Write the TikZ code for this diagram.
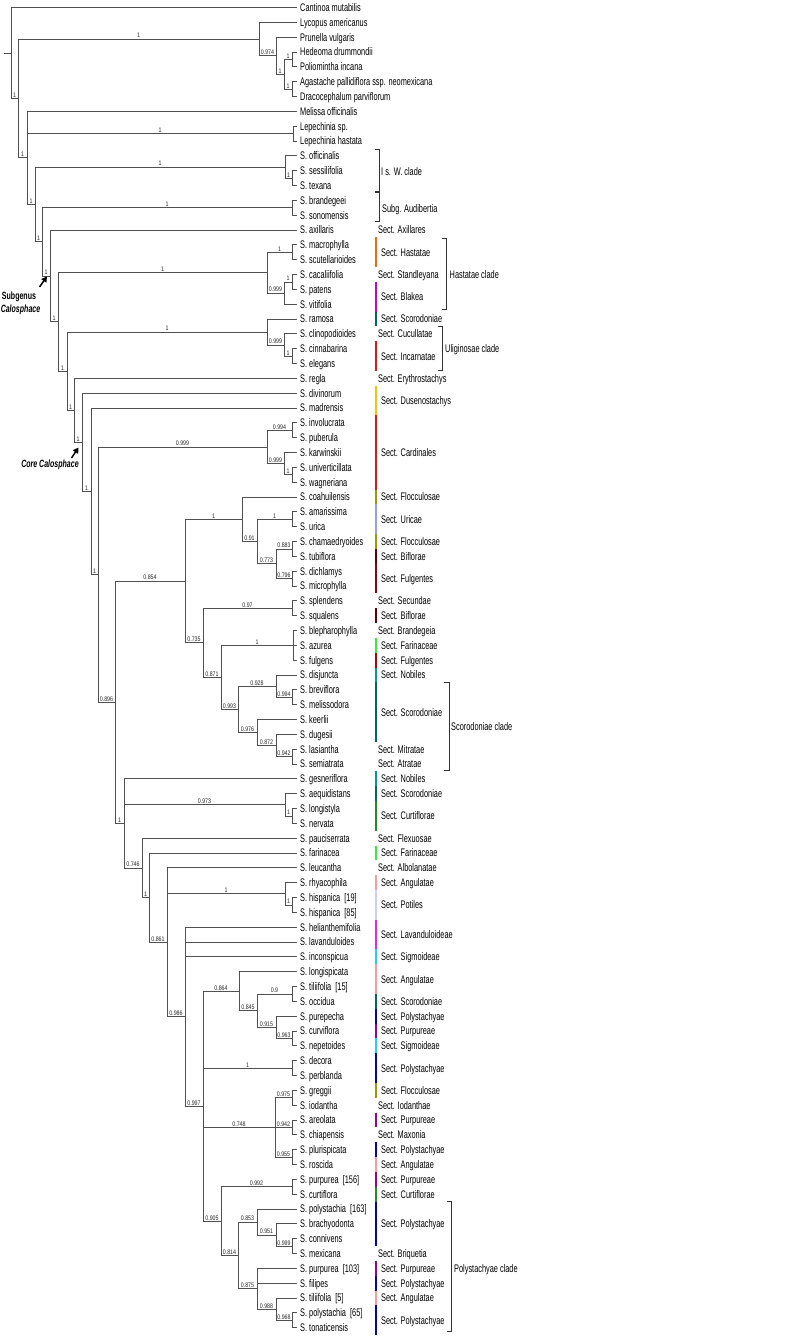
\documentclass[tikz,border=0pt]{standalone}
\usepackage{fontspec}
\setmainfont[FakeStretch=0.67]{Liberation Sans}
\newfontfamily\supfont[FakeStretch=0.8]{Liberation Sans}
\usetikzlibrary{arrows.meta}
\definecolor{treegray}{HTML}{505050}
\definecolor{orng}{HTML}{FF6600}
\definecolor{mgnt}{HTML}{CC00CC}
\definecolor{brmag}{HTML}{EE22EE}
\definecolor{dteal}{HTML}{006666}
\definecolor{teal}{HTML}{009999}
\definecolor{rred}{HTML}{EE1111}
\definecolor{yell}{HTML}{FFC000}
\definecolor{olv}{HTML}{999900}
\definecolor{lav}{HTML}{9999FF}
\definecolor{llav}{HTML}{CCCCFF}
\definecolor{mrn}{HTML}{660000}
\definecolor{dred}{HTML}{990000}
\definecolor{fred}{HTML}{BB0000}
\definecolor{lgrn}{HTML}{33EE33}
\definecolor{fgrn}{HTML}{228B22}
\definecolor{pnk}{HTML}{FF9999}
\definecolor{cyn}{HTML}{22CCFF}
\definecolor{blu}{HTML}{0000CC}
\definecolor{prp}{HTML}{990099}
\begin{document}
\begin{tikzpicture}[x=1pt,y=-14.834pt,
 br/.style={draw=treegray,line width=0.85pt},
 lbl/.style={font=\supfont\fontsize{6.6}{7}\selectfont,text=black!85,above,inner sep=0.6pt},
 leaf/.style={anchor=base west,inner sep=0pt,yshift=-3.9pt,font=\fontsize{11}{13}\selectfont},
 bar/.style={line width=2.2pt},
 brk/.style={draw=black!80,line width=0.9pt},
 arr/.style={-{Triangle[length=5.5pt,width=6pt]},line width=1.5pt},
 annot/.style={inner sep=0pt,font=\bfseries\itshape\fontsize{10.5}{12}\selectfont}]
\useasboundingbox[fill=white] (0,0.49441) rectangle (788,90.7600);
% internal nodes
\coordinate (R0) at (4,4.066);
\coordinate (R) at (11,4.066);
\coordinate (A) at (18,7.131);
\coordinate (L) at (259,3.125);
\coordinate (C) at (276,4.25);
\coordinate (D) at (284,5.5);
\coordinate (E) at (292,4.5);
\coordinate (F) at (292,6.5);
\coordinate (B) at (27,11.137);
\coordinate (Lp) at (293,9.5);
\coordinate (G) at (35,14.274);
\coordinate (H) at (285,11.75);
\coordinate (H2) at (292,12.5);
\coordinate (I) at (42,16.799);
\coordinate (Br) at (292,14.5);
\coordinate (J) at (50,19.097);
\coordinate (K) at (58,22.195);
\coordinate (Ha) at (267,18.875);
\coordinate (HaA) at (292,17.5);
\coordinate (HaB) at (284,20.25);
\coordinate (HaC) at (292,19.5);
\coordinate (M) at (67,25.514);
\coordinate (N) at (267,22.875);
\coordinate (Ul) at (284,23.75);
\coordinate (UlA) at (292,24.5);
\coordinate (O) at (74,28.154);
\coordinate (P) at (82,30.307);
\coordinate (Q) at (91,33.614);
\coordinate (S) at (98,39.229);
\coordinate (Ca) at (267,30.625);
\coordinate (CaA) at (292,29.5);
\coordinate (CaB) at (284,31.75);
\coordinate (CaC) at (292,32.5);
\coordinate (T) at (115,47.833);
\coordinate (U) at (185,39.664);
\coordinate (W) at (242,35.5);
\coordinate (WA) at (292,35.5);
\coordinate (WB) at (257,37);
\coordinate (WC) at (276,38.5);
\coordinate (WD) at (292,37.5);
\coordinate (WE) at (292,39.5);
\coordinate (X) at (203,43.828);
\coordinate (Y) at (292,41.5);
\coordinate (Z) at (221,46.156);
\coordinate (ZA) at (293,44);
\coordinate (ZB) at (238,48.3125);
\coordinate (ZC) at (276,46.75);
\coordinate (ZD) at (292,47.5);
\coordinate (ZE) at (257,49.875);
\coordinate (ZF) at (276,50.75);
\coordinate (ZG) at (292,51.5);
\coordinate (V) at (124,56.002);
\coordinate (VA) at (285,54.75);
\coordinate (VB) at (292,55.5);
\coordinate (AA) at (142,59.004);
\coordinate (AB) at (149,61.008);
\coordinate (AC) at (167,64.015);
\coordinate (AD) at (285,60.75);
\coordinate (ADb) at (292,61.5);
\coordinate (AE) at (185,69.03);
\coordinate (AF) at (203,75.0625);
\coordinate (AG) at (239,67.3125);
\coordinate (AGb) at (257,68.625);
\coordinate (AGc) at (292,67.5);
\coordinate (AGd) at (276,69.75);
\coordinate (AGe) at (292,70.5);
\coordinate (AH) at (292,72.5);
\coordinate (AI) at (275,76.5);
\coordinate (AIa) at (292,74.5);
\coordinate (AIb) at (292,76.5);
\coordinate (AIc) at (292,78.5);
\coordinate (AJ) at (221,82.8125);
\coordinate (AK) at (292,80.5);
\coordinate (AL) at (238,85.125);
\coordinate (AM) at (257,82.875);
\coordinate (AMb) at (276,83.75);
\coordinate (AMc) at (292,84.5);
\coordinate (AN) at (257,87.375);
\coordinate (ANb) at (276,88.75);
\coordinate (ANc) at (292,89.5);
% leaves
\foreach \i/\t in {1/Cantinoa mutabilis,2/Lycopus americanus,3/Prunella vulgaris,4/Hedeoma drummondii,5/Poliomintha incana,6/Agastache pallidiflora ssp. neomexicana,7/Dracocephalum parviflorum,8/Melissa officinalis,9/Lepechinia sp.,10/Lepechinia hastata,11/S. officinalis,12/S. sessilifolia,13/S. texana,14/S. brandegeei,15/S. sonomensis,16/S. axillaris,17/S. macrophylla,18/S. scutellarioides,19/S. cacaliifolia,20/S. patens,21/S. vitifolia,22/S. ramosa,23/S. clinopodioides,24/S. cinnabarina,25/S. elegans,26/S. regla,27/S. divinorum,28/S. madrensis,29/S. involucrata,30/S. puberula,31/S. karwinskii,32/S. univerticillata,33/S. wagneriana,34/S. coahuilensis,35/S. amarissima,36/S. urica,37/S. chamaedryoides,38/S. tubiflora,39/S. dichlamys,40/S. microphylla,41/S. splendens,42/S. squalens,43/S. blepharophylla,44/S. azurea,45/S. fulgens,46/S. disjuncta,47/S. breviflora,48/S. melissodora,49/S. keerlii,50/S. dugesii,51/S. lasiantha,52/S. semiatrata,53/S. gesneriflora,54/S. aequidistans,55/S. longistyla,56/S. nervata,57/S. pauciserrata,58/S. farinacea,59/S. leucantha,60/S. rhyacophila,61/S. hispanica\ \ [19],62/S. hispanica\ \ [85],63/S. helianthemifolia,64/S. lavanduloides,65/S. inconspicua,66/S. longispicata,67/S. tiliifolia\ \ [15],68/S. occidua,69/S. purepecha,70/S. curviflora,71/S. nepetoides,72/S. decora,73/S. perblanda,74/S. greggii,75/S. iodantha,76/S. areolata,77/S. chiapensis,78/S. plurispicata,79/S. roscida,80/S. purpurea\ \ [156],81/S. curtiflora,82/S. polystachia\ \ [163],83/S. brachyodonta,84/S. connivens,85/S. mexicana,86/S. purpurea\ \ [103],87/S. filipes,88/S. tiliifolia\ \ [5],89/S. polystachia\ \ [65],90/S. tonaticensis}
{\coordinate (l\i) at (297,\i); \node[leaf] (t\i) at (300,\i) {\t};}
% root stub
\draw[br] (R0) -- (R);
% edges to leaves
\foreach \p/\c in {R/l1,L/l2,C/l3,E/l4,E/l5,F/l6,F/l7,B/l8,Lp/l9,Lp/l10,H/l11,H2/l12,H2/l13,Br/l14,Br/l15,J/l16,HaA/l17,HaA/l18,HaC/l19,HaC/l20,HaB/l21,N/l22,Ul/l23,UlA/l24,UlA/l25,O/l26,P/l27,Q/l28,CaA/l29,CaA/l30,CaB/l31,CaC/l32,CaC/l33,W/l34,WA/l35,WA/l36,WD/l37,WD/l38,WE/l39,WE/l40,Y/l41,Y/l42,ZA/l43,ZA/l44,ZA/l45,ZC/l46,ZD/l47,ZD/l48,ZE/l49,ZF/l50,ZG/l51,ZG/l52,V/l53,VA/l54,VB/l55,VB/l56,AA/l57,AB/l58,AC/l59,AD/l60,ADb/l61,ADb/l62,AE/l63,AE/l64,AE/l65,AG/l66,AGc/l67,AGc/l68,AGd/l69,AGe/l70,AGe/l71,AH/l72,AH/l73,AIa/l74,AIa/l75,AIb/l76,AIb/l77,AIc/l78,AIc/l79,AK/l80,AK/l81,AM/l82,AMb/l83,AMc/l84,AMc/l85,AN/l86,AN/l87,ANb/l88,ANc/l89,ANc/l90}
{\draw[br] (\p) |- (\c);}
% internal edges with support values
\foreach \p/\c/\s in {R/A/1,A/L/1,A/B/1,L/C/0.974,C/D/1,D/E/1,D/F/1,B/Lp/1,B/G/1,G/H/1,G/I/1,H/H2/1,I/Br/1,I/J/1,J/K/1,K/Ha/1,K/M/1,Ha/HaA/1,Ha/HaB/0.999,HaB/HaC/1,M/N/1,M/O/1,N/Ul/0.999,Ul/UlA/1,O/P/1,P/Q/1,Q/S/1,S/Ca/0.999,S/T/0.896,Ca/CaA/0.994,Ca/CaB/0.999,CaB/CaC/1,T/U/0.854,T/V/1,U/W/1,U/X/0.735,W/WB/0.91,WB/WA/1,WB/WC/0.773,WC/WD/0.883,WC/WE/0.796,X/Y/0.97,X/Z/0.871,Z/ZA/1,Z/ZB/0.993,ZB/ZC/0.928,ZB/ZE/0.976,ZC/ZD/0.994,ZE/ZF/0.872,ZF/ZG/0.942,V/VA/0.973,V/AA/0.746,VA/VB/1,AA/AB/1,AB/AC/0.861,AC/AD/1,AC/AE/0.986,AD/ADb/1,AE/AF/0.997,AF/AG/0.864,AF/AH/1,AF/AI/0.748,AF/AJ/0.905,AG/AGb/0.845,AGb/AGc/0.9,AGb/AGd/0.915,AGd/AGe/0.963,AI/AIa/0.975,AI/AIb/0.942,AI/AIc/0.955,AJ/AK/0.992,AJ/AL/0.814,AL/AM/0.853,AL/AN/0.875,AM/AMb/0.951,AMb/AMc/0.999,AN/ANb/0.988,ANb/ANc/0.968}
{\draw[br] (\p) |- (\c) node[lbl,pos=0.75] {\s};}
% colour bars
\foreach \c/\a/\b in {orng/16.5/18.5,mgnt/19.5/21.5,dteal/21.5/22.5,rred/23.5/25.5,yell/26.5/28.5,rred/28.5/33.5,olv/33.5/34.5,lav/34.5/36.5,olv/36.5/37.5,mrn/37.5/38.5,dred/38.5/40.5,mrn/41.5/42.5,lgrn/43.5/44.5,fred/44.5/45.5,teal/45.5/46.5,dteal/46.5/50.5,teal/52.5/53.5,dteal/53.5/54.5,fgrn/54.5/56.5,lgrn/57.5/58.5,pnk/59.5/60.5,llav/60.5/62.5,brmag/62.5/64.5,cyn/64.5/65.5,pnk/65.5/67.5,dteal/67.5/68.5,blu/68.5/69.5,prp/69.5/70.5,cyn/70.5/71.5,blu/71.5/73.5,olv/73.5/74.5,prp/75.5/76.5,blu/77.5/78.5,pnk/78.5/79.5,prp/79.5/80.5,fgrn/80.5/81.5,blu/81.5/84.5,prp/85.5/86.5,blu/86.5/87.5,pnk/87.5/88.5,blu/88.5/90.5}
{\draw[bar,draw=\c] (376,\a) -- (376,\b);}
% section labels
\foreach \x/\yy/\t [count=\k] in {378/16/Sect. Axillares,381/17.5/Sect. Hastatae,378/19/Sect. Standleyana,381/20.5/Sect. Blakea,381/22/Sect. Scorodoniae,378/23/Sect. Cucullatae,381/24.5/Sect. Incarnatae,378/26/Sect. Erythrostachys,381/27.5/Sect. Dusenostachys,381/31/Sect. Cardinales,381/34/Sect. Flocculosae,381/35.5/Sect. Uricae,381/37/Sect. Flocculosae,381/38/Sect. Biflorae,381/39.5/Sect. Fulgentes,378/41/Sect. Secundae,381/42/Sect. Biflorae,378/43/Sect. Brandegeia,381/44/Sect. Farinaceae,381/45/Sect. Fulgentes,381/46/Sect. Nobiles,381/48.5/Sect. Scorodoniae,378/51/Sect. Mitratae,378/52/Sect. Atratae,381/53/Sect. Nobiles,381/54/Sect. Scorodoniae,381/55.5/Sect. Curtiflorae,378/57/Sect. Flexuosae,381/58/Sect. Farinaceae,378/59/Sect. Albolanatae,381/60/Sect. Angulatae,381/61.5/Sect. Potiles,381/63.5/Sect. Lavanduloideae,381/65/Sect. Sigmoideae,381/66.5/Sect. Angulatae,381/68/Sect. Scorodoniae,381/69/Sect. Polystachyae,381/70/Sect. Purpureae,381/71/Sect. Sigmoideae,381/72.5/Sect. Polystachyae,381/74/Sect. Flocculosae,378/75/Sect. Iodanthae,381/76/Sect. Purpureae,378/77/Sect. Maxonia,381/78/Sect. Polystachyae,381/79/Sect. Angulatae,381/80/Sect. Purpureae,381/81/Sect. Curtiflorae,381/83/Sect. Polystachyae,378/85/Sect. Briquetia,381/86/Sect. Purpureae,381/87/Sect. Polystachyae,381/88/Sect. Angulatae,381/89.5/Sect. Polystachyae}
{\node[leaf] (s\k) at (\x,\yy) {\t};}
% brackets
\draw[brk] (375,10.56) -- (379,10.56) -- (379,13.42) -- (375,13.42);
\draw[brk] (375,13.5) -- (379,13.5) -- (379,15.44) -- (375,15.44);
\node[leaf] (cIsW) at (381,12.07) {I s. W. clade};
\node[leaf] (cAud) at (382,14.58) {Subg. Audibertia};
\draw[brk] (441.7,16.56) -- (446.7,16.56) -- (446.7,21.35) -- (441.7,21.35);
\node[leaf] (cHas) at (449.5,19) {Hastatae clade};
\draw[brk] (437.7,22.52) -- (442.7,22.52) -- (442.7,25.48) -- (437.7,25.48);
\node[leaf] (cUli) at (445,24) {Uliginosae clade};
\draw[brk] (444,46.52) -- (449,46.52) -- (449,52.4) -- (444,52.4);
\node[leaf] (cSco) at (451,49.47) {Scorodoniae clade};
\draw[brk] (446.7,81.5) -- (451.7,81.5) -- (451.7,90.28) -- (446.7,90.28);
\node[leaf] (cPol) at (454,86) {Polystachyae clade};
% annotations
\coordinate (a1s) at (39.5,19.84);
\coordinate (a1e) at (47,19.13);
\draw[arr] (a1s) -- (a1e);
\node[annot,font=\bfseries\fontsize{10.5}{12}\selectfont] (sg1) at (19,20.52) {Subgenus};
\node[annot] (sg2) at (20.5,21.39) {Calosphace};
\coordinate (a2s) at (71.5,31.37);
\coordinate (a2e) at (78.5,30.66);
\draw[arr] (a2s) -- (a2e);
\node[annot] (core) at (50,31.84) {Core Calosphace};
\end{tikzpicture}
\end{document}
